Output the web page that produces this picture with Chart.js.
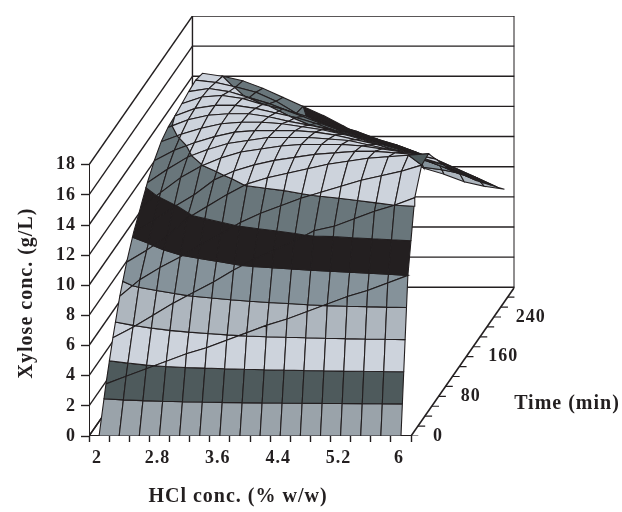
<!DOCTYPE html>
<html>
<head>
<meta charset="utf-8">
<script src="https://cdn.jsdelivr.net/npm/chart.js@4"></script>
<style>
  html, body { margin: 0; padding: 0; background: #fff; }
  canvas { display: block; }
</style>
</head>
<body>
<canvas id="xyloseChart" width="622" height="512"></canvas>
<script>
// values, xylose g/L
const hclLabels = ['2', '2.8', '3.6', '4.4', '5.2', '6'];
const timeLabels = ['0', '80', '160', '240'];
const zTicks = [0, 2, 4, 6, 8, 10, 12, 14, 16, 18];
const times = [0, 20, 40, 60, 80, 100, 120, 140, 160, 180, 200, 220, 240, 260, 280, 300];

// one row per time, one column per HCl step (2 to 6 % w/w, 16 steps)
const t0 = [0, 0, 0, 0, 0, 0, 0, 0, 0, 0, 0, 0, 0, 0, 0, 0];
const t20 = [2.8, 3.3, 3.8, 4.3, 4.8, 5.2, 5.7, 6.2, 6.7, 7.1, 7.6, 8.1, 8.6, 9.0, 9.5, 10.0];
const t40 = [5.2, 5.9, 6.7, 7.5, 8.2, 8.9, 9.7, 10.4, 11.0, 11.6, 12.3, 12.6, 13.1, 13.6, 14.0, 14.5];
const t60 = [7.3, 8.4, 9.2, 9.9, 10.7, 11.4, 12.2, 12.8, 13.3, 13.8, 14.2, 14.6, 15.0, 15.3, 15.6, 16.0];
const t80 = [8.9, 9.7, 10.6, 11.8, 12.6, 13.4, 14.1, 14.5, 14.8, 15.1, 15.4, 15.6, 15.8, 15.9, 16.0, 16.1];
const t100 = [10.2, 11.0, 11.9, 12.7, 13.7, 14.3, 14.7, 15.0, 15.2, 15.4, 15.5, 15.6, 15.6, 15.5, 15.4, 15.1];
const t120 = [11.2, 12.2, 13.2, 13.95, 14.5, 14.9, 15.1, 15.3, 15.4, 15.4, 15.4, 15.3, 15.1, 14.9, 14.5, 14.1];
const t140 = [12.2, 13.1, 13.9, 14.4, 14.8, 15.0, 15.2, 15.2, 15.2, 15.1, 15.0, 14.7, 14.4, 14.0, 13.6, 13.1];
const t160 = [13.0, 13.7, 14.2, 14.6, 14.9, 15.0, 15.0, 15.0, 14.9, 14.7, 14.4, 14.1, 13.7, 13.3, 12.8, 12.2];
const t180 = [13.6, 14.1, 14.5, 14.8, 14.9, 14.9, 14.8, 14.6, 14.4, 14.1, 13.8, 13.4, 13.0, 12.5, 12.0, 11.4];
const t200 = [13.9, 14.4, 14.7, 14.8, 14.8, 14.6, 14.3, 14.05, 13.8, 13.4, 13.0, 12.6, 12.2, 11.7, 11.2, 10.6];
const t220 = [14.0, 14.5, 14.7, 14.7, 14.5, 14.2, 13.9, 13.5, 13.0, 12.6, 12.1, 11.7, 11.3, 10.8, 10.3, 9.7];
const t240 = [14.15, 14.6, 14.7, 14.5, 14.1, 13.8, 13.3, 12.8, 12.3, 11.9, 11.5, 11.1, 10.6, 10.0, 9.5, 8.9];
const t260 = [14.3, 14.5, 14.3, 13.9, 13.5, 13.0, 12.4, 12.0, 11.6, 11.2, 10.8, 10.4, 9.9, 9.3, 8.7, 8.1];
const t280 = [14.4, 14.25, 13.95, 13.6, 13.0, 12.2, 11.8, 11.4, 11.0, 10.5, 10.1, 9.6, 9.1, 8.5, 7.9, 7.3];
const t300 = [14.2, 14.0, 13.7, 13.2, 12.6, 12.0, 11.4, 10.7, 10.0, 9.4, 8.7, 7.9, 7.5, 7.0, 6.7, 6.5];
const xylose = [t0, t20, t40, t60, t80, t100, t120, t140, t160, t180, t200, t220, t240, t260, t280, t300];

// one colour per 2 g/L band
const bandColors = ['#9aa3aa', '#4e5a5c', '#cdd3dc', '#aeb6be', '#85929a', '#231f20', '#69767b', '#cdd3dc', '#4e5a5c'];
const inkColor = '#231f20';
const serif = '"Liberation Serif", serif';

// oblique depth of the box, in x and z axis units
const depthX = 5.14;
const depthY = 9.87;
const hclSteps = t0.length;

function project(col, row, z) {
  const d = row / (times.length - 1);
  return { x: col + 0.5 + d * depthX, y: z + d * depthY };
}

// keep the part of a polygon where sign*(z-level) >= 0
function clipZ(poly, level, sign) {
  const out = [];
  poly.forEach((a, k) => {
    const b = poly[(k + 1) % poly.length];
    const inA = sign * (a.z - level) >= 0;
    const inB = sign * (b.z - level) >= 0;
    if (inA) out.push(a);
    if (inA !== inB) {
      const f = (level - a.z) / (b.z - a.z);
      out.push({ col: a.col + f * (b.col - a.col), row: a.row + f * (b.row - a.row), z: level });
    }
  });
  return out;
}

function lineSet(points, width) {
  return {
    data: points,
    showLine: true,
    fill: false,
    borderColor: inkColor,
    borderWidth: width,
    pointRadius: 0,
    tension: 0
  };
}

const wallSets = [];
zTicks.forEach((z) => {
  wallSets.push(lineSet([{ x: 0, y: z }, { x: depthX, y: z + depthY }], 1.4));
  wallSets.push(lineSet([{ x: depthX, y: z + depthY }, { x: hclSteps + depthX, y: z + depthY }], 1.4));
});
wallSets.push(lineSet([{ x: 0, y: 0 }, { x: 0, y: 18 }], 2));
wallSets.push(lineSet([{ x: depthX, y: depthY }, { x: depthX, y: 18 + depthY }], 1.4));
wallSets.push(lineSet([{ x: hclSteps + depthX, y: depthY }, { x: hclSteps + depthX, y: 18 + depthY }], 2));
wallSets.push(lineSet([{ x: 0, y: 0 }, { x: hclSteps, y: 0 }], 2));
wallSets.push(lineSet([{ x: hclSteps, y: 0 }, { x: hclSteps + depthX, y: depthY }], 1.6));
wallSets.push(lineSet([{ x: 0, y: 0 }, { x: depthX, y: depthY }], 1.4));
// time axis tick marks
times.forEach((t, j) => {
  const d = j / (times.length - 1);
  wallSets.push(lineSet([
    { x: hclSteps + d * depthX, y: d * depthY },
    { x: hclSteps + d * depthX + 0.36, y: d * depthY }
  ], 1.2));
});

// far row first, left to right, so nearer facets paint over
const surfaceSets = [];
for (let row = times.length - 2; row >= 0; row--) {
  for (let col = 0; col < hclSteps - 1; col++) {
    const quad = [
      { col: col, row: row, z: xylose[row][col] },
      { col: col + 1, row: row, z: xylose[row][col + 1] },
      { col: col + 1, row: row + 1, z: xylose[row + 1][col + 1] },
      { col: col, row: row + 1, z: xylose[row + 1][col] }
    ];
    bandColors.forEach((color, b) => {
      let poly = clipZ(quad, b * 2, 1);
      if (poly.length) poly = clipZ(poly, b * 2 + 2, -1);
      if (poly.length < 3) return;
      const pts = poly.map((p) => project(p.col, p.row, p.z));
      pts.push(pts[0]);
      surfaceSets.push({
        data: pts,
        showLine: true,
        fill: 'shape',
        backgroundColor: color,
        borderColor: inkColor,
        borderWidth: 1.1,
        pointRadius: 0,
        tension: 0
      });
    });
  }
}

// chart.js paints dataset 0 last
const datasets = wallSets.concat(surfaceSets).reverse();

const boxText = {
  id: 'boxText',
  beforeDraw(chart) {
    chart.ctx.letterSpacing = '1px';
  },
  afterDraw(chart) {
    const { ctx, scales } = chart;
    ctx.save();
    ctx.fillStyle = inkColor;
    ctx.textBaseline = 'middle';
    // depth axis labels, every fourth time step
    ctx.font = 'bold 18px ' + serif;
    ctx.textAlign = 'left';
    timeLabels.forEach((label, k) => {
      const d = (k * 4) / (times.length - 1);
      ctx.fillText(label, scales.x.getPixelForValue(hclSteps + d * depthX) + 22, scales.y.getPixelForValue(d * depthY));
    });
    ctx.letterSpacing = '1px';
    ctx.font = 'bold 20px ' + serif;
    ctx.textAlign = 'center';
    ctx.fillText('Time (min)', 567, 404);
    ctx.fillText('HCl conc. (% w/w)', 238, 497);
    ctx.translate(27, 293);
    ctx.rotate(-Math.PI / 2);
    ctx.fillText('Xylose conc. (g/L)', 0, 0);
    ctx.restore();
  }
};

new Chart(document.getElementById('xyloseChart'), {
  type: 'scatter',
  data: { datasets: datasets },
  plugins: [boxText],
  options: {
    responsive: false,
    animation: false,
    layout: { padding: { top: 16, right: 107.5 } },
    plugins: { legend: { display: false }, tooltip: { enabled: false } },
    scales: {
      x: {
        type: 'linear',
        min: 0,
        max: hclSteps + depthX,
        border: { display: false },
        afterFit(scale) { scale.height = 76; },
        afterBuildTicks(scale) {
          const list = [];
          for (let k = 0; k <= hclSteps; k++) list.push({ value: k });
          hclLabels.forEach((label, k) => list.push({ value: k * 3 + 0.5 }));
          scale.ticks = list;
        },
        grid: {
          drawOnChartArea: false,
          tickLength: 6,
          tickWidth: 1.4,
          tickColor: (c) => (c.tick && Number.isInteger(c.tick.value) ? inkColor : 'rgba(0,0,0,0)')
        },
        ticks: {
          autoSkip: false,
          maxRotation: 0,
          padding: 6,
          labelOffset: -2,
          color: inkColor,
          font: { family: serif, size: 18, weight: 'bold' },
          callback: (value) => (Number.isInteger(value) ? '' : hclLabels[(value - 0.5) / 3])
        }
      },
      y: {
        type: 'linear',
        min: 0,
        max: 18 + depthY,
        border: { display: false },
        afterFit(scale) { scale.width = 89; },
        afterBuildTicks(scale) {
          scale.ticks = zTicks.map((z) => ({ value: z }));
        },
        grid: { drawOnChartArea: false, tickLength: 8, tickWidth: 1.4, tickColor: inkColor },
        ticks: {
          padding: 5,
          color: inkColor,
          font: { family: serif, size: 18, weight: 'bold' }
        }
      }
    }
  }
});
</script>
</body>
</html>
